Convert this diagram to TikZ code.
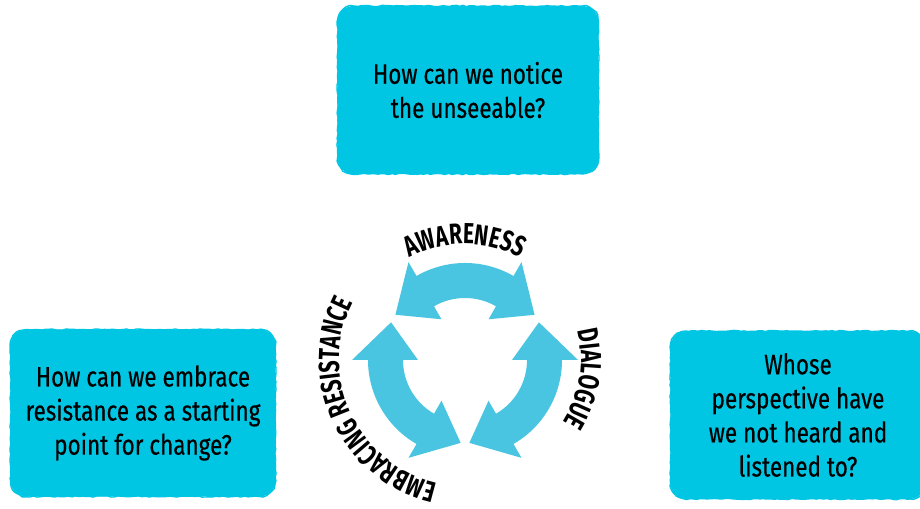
\documentclass[tikz,border=0pt]{standalone}
\usepackage{fontspec}
\setmainfont[FakeStretch=0.8, FakeBold=0.35]{Fira Sans}
\newfontfamily\labelfont[FakeStretch=0.72]{Fira Sans}
\usepackage{xcolor}
\usepackage{tikz}
\usetikzlibrary{positioning,decorations.pathmorphing,decorations.text}

\definecolor{boxcyan}{RGB}{0,197,227}
\definecolor{ringblue}{RGB}{74,197,225}

\begin{document}
\begin{tikzpicture}[x=0.02cm,y=0.02cm,
    qbox/.style={fill=boxcyan, rounded corners=9pt, inner sep=0pt,
        align=center, font=\fontsize{16}{19.4}\selectfont,
        postaction={draw=boxcyan, line width=0.8pt, line join=round, sharp corners, decorate,
            decoration={random steps, segment length=2pt, amplitude=0.35pt}}},
    cyclelabel/.style={decorate, decoration={text along path, text align=center,
        text format delimiters={|}{|}}}]
    \pgfmathsetseed{7}
    \useasboundingbox (0,0) rectangle (920,509);

    % Question boxes
    \node[qbox, minimum width=5.22cm, minimum height=3.36cm] (notice) at (468,419)
        {How can we notice\\the unseeable?};
    \node[qbox, minimum width=5.3cm, minimum height=3.34cm] (embrace) at (143,96)
        {How can we embrace\\resistance as a starting\\point for change?};
    \node[qbox, minimum width=5.1cm, minimum height=3.36cm] (perspective) at (798,94)
        {Whose\\perspective have\\we not heard and\\listened to?};

    % Cycle of arrows
    \begin{scope}[shift={(465,149)}]
        \foreach \c in {90,210,330} {
            \fill[ringblue] (\c-30:97) arc[start angle=\c-30, end angle=\c+30, radius=97]
                -- (\c+30:113) -- (\c+57:83) -- (\c+30:47) -- (\c+30:62)
                arc[start angle=\c+30, end angle=\c-30, radius=62]
                -- (\c-30:47) -- (\c-57:83) -- (\c-30:113) -- cycle;
        }

        % Labels round the cycle
        \path[cyclelabel, decoration={text={|\labelfont\fontsize{16.5}{16.5}\bfseries\selectfont|AWARENESS}}]
            (130:116) arc[start angle=130, end angle=50, radius=116];
        \path[cyclelabel, decoration={text={|\labelfont\fontsize{16.5}{16.5}\bfseries\selectfont|DIALOGUE}}]
            (35:116) arc[start angle=35, end angle=-53, radius=116];
        \path[cyclelabel, decoration={text={|\labelfont\fontsize{16.5}{16.5}\bfseries\selectfont|EMBRACING RESISTANCE}}]
            (267:126) arc[start angle=267, end angle=143, radius=126];
    \end{scope}
\end{tikzpicture}
\end{document}
